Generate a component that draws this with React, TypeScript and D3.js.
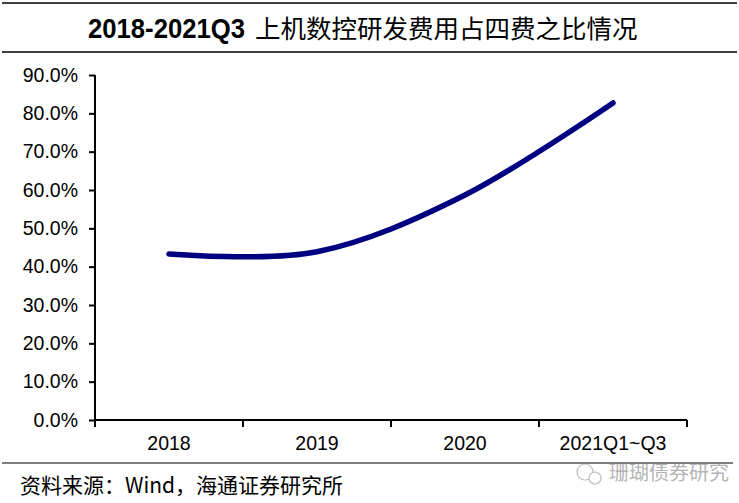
import React, { useEffect, useRef } from 'react';
import * as d3 from 'd3';

const categories = ['2018', '2019', '2020', '2021Q1~Q3'];
const ratioValues = [43.3, 43.9, 58.7, 82.7];
const yTicks = [0, 10, 20, 30, 40, 50, 60, 70, 80, 90];

const W = 739;
const H = 503;

const App: React.FC = () => {
  const svgRef = useRef<SVGSVGElement>(null);

  useEffect(() => {
    const svg = d3.select(svgRef.current);
    svg.selectAll('*').remove();

    const left = 95, right = 687, top = 75, bottom = 420;
    const font = 'Liberation Sans, Arial, sans-serif';
    const cjk = '"Noto Sans CJK SC", sans-serif';

    const x = d3.scaleBand<string>().domain(categories).range([left, right]).padding(0);
    const y = d3.scaleLinear().domain([0, 90]).range([bottom, top]);

    // title frame lines
    svg.append('line').attr('x1', 2).attr('x2', 737).attr('y1', 3).attr('y2', 3)
      .attr('stroke', '#000').attr('stroke-width', 1.5);
    svg.append('line').attr('x1', 2).attr('x2', 737).attr('y1', 52).attr('y2', 52)
      .attr('stroke', '#000').attr('stroke-width', 1.5);

    // title: condensed bold latin part + CJK part
    svg.append('text')
      .attr('x', 88).attr('y', 38)
      .style('font-family', font).style('font-weight', 'bold').style('font-size', '27px')
      .attr('textLength', 157).attr('lengthAdjust', 'spacingAndGlyphs')
      .text('2018-2021Q3');
    svg.append('text')
      .attr('x', 255).attr('y', 38)
      .style('font-family', cjk).style('font-size', '25.5px')
      .text('上机数控研发费用占四费之比情况');

    // y axis
    const yAxis = svg.append('g')
      .attr('transform', `translate(${left},0)`)
      .call(d3.axisLeft(y).tickValues(yTicks).tickSize(6).tickPadding(11)
        .tickFormat(d => `${(+d).toFixed(1)}%`));
    yAxis.selectAll('text').style('font-family', font).style('font-size', '19.5px').attr('fill', '#000');
    yAxis.selectAll('line').attr('stroke', '#000').attr('stroke-width', 2);
    yAxis.select('.domain').attr('stroke', '#000').attr('stroke-width', 2).attr('d', `M0,${top}V${bottom}`);

    // x axis
    const xAxis = svg.append('g')
      .attr('transform', `translate(0,${bottom})`)
      .call(d3.axisBottom(x).tickSize(0).tickPadding(16));
    xAxis.select('.domain').attr('stroke', '#000').attr('stroke-width', 2).attr('d', `M${left},0H${right}`);
    xAxis.selectAll('text').style('font-family', font).style('font-size', '19.5px').attr('fill', '#000');
    const bounds = [...categories.map(c => x(c) as number), right];
    xAxis.selectAll('.sep').data(bounds).enter().append('line')
      .attr('class', 'sep')
      .attr('x1', d => d).attr('x2', d => d).attr('y1', 0).attr('y2', 7)
      .attr('stroke', '#000').attr('stroke-width', 2);

    // line
    const line = d3.line<number>()
      .x((_, i) => (x(categories[i]) as number) + x.bandwidth() / 2)
      .y(d => y(d))
      .curve(d3.curveCardinal.tension(0));
    svg.append('path')
      .datum(ratioValues)
      .attr('fill', 'none')
      .attr('stroke', '#000080')
      .attr('stroke-width', 5.5)
      .attr('stroke-linecap', 'round')
      .attr('d', line);

    // footer
    svg.append('line').attr('x1', 2).attr('x2', 733).attr('y1', 463).attr('y2', 463)
      .attr('stroke', '#000').attr('stroke-width', 1.2);
    svg.append('text').attr('x', 20).attr('y', 493)
      .style('font-family', cjk).style('font-size', '21px').attr('fill', '#000')
      .text('资料来源：Wind，海通证券研究所');

    // watermark
    const wm = svg.append('g').attr('opacity', 0.55);
    wm.append('circle').attr('cx', 585).attr('cy', 472).attr('r', 8)
      .attr('fill', 'none').attr('stroke', '#888').attr('stroke-width', 1.2);
    wm.append('circle').attr('cx', 595).attr('cy', 478).attr('r', 6)
      .attr('fill', '#fff').attr('stroke', '#888').attr('stroke-width', 1.2);
    wm.append('text').attr('x', 609).attr('y', 480)
      .style('font-family', cjk).style('font-size', '20px').attr('fill', '#777')
      .text('珊瑚债券研究');
  }, []);

  return (
    <svg ref={svgRef} width={W} height={H}
      style={{ position: 'absolute', left: 0, top: 0, background: '#fff' }} />
  );
};

export default App;
